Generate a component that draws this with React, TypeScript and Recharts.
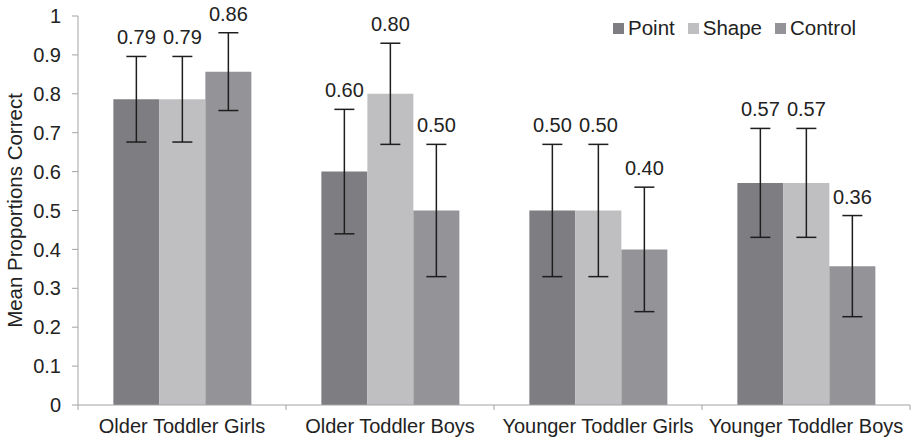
import React from "react"
import { BarChart, Bar, XAxis, YAxis, ErrorBar, LabelList } from "recharts"

const groups = ["Older Toddler Girls", "Older Toddler Boys", "Younger Toddler Girls", "Younger Toddler Boys"]
const pointValues = [0.786, 0.6, 0.5, 0.571]
const shapeValues = [0.786, 0.8, 0.5, 0.571]
const controlValues = [0.857, 0.5, 0.4, 0.357]
const pointErrors = [0.11, 0.16, 0.17, 0.14]
const shapeErrors = [0.11, 0.13, 0.17, 0.14]
const controlErrors = [0.1, 0.17, 0.16, 0.13]
const yTicks = [0, 0.1, 0.2, 0.3, 0.4, 0.5, 0.6, 0.7, 0.8, 0.9, 1]

const series = [
  { key: "point", name: "Point", color: "#7e7e82", errors: pointErrors },
  { key: "shape", name: "Shape", color: "#bfbfc1", errors: shapeErrors },
  { key: "control", name: "Control", color: "#949498", errors: controlErrors },
]

const data = groups.map((g, i) => ({
  group: g,
  point: pointValues[i],
  shape: shapeValues[i],
  control: controlValues[i],
  pointErr: pointErrors[i],
  shapeErr: shapeErrors[i],
  controlErr: controlErrors[i],
}))

const font = "'Liberation Sans', Arial, sans-serif"
const axisColor = "#a3a3a3"
const textColor = "#222"

function makeLabel(errors: number[]) {
  return (props: any) => {
    const { x, y, width, height, value, index } = props
    const perUnit = height / value
    const top = y - errors[index] * perUnit
    return (
      <text
        x={x + width / 2}
        y={top - 12}
        textAnchor="middle"
        fontSize={20}
        fontFamily={font}
        fill={textColor}
      >
        {Number(value).toFixed(2)}
      </text>
    )
  }
}

// category tick with Excel-style boundary marks between groups
function GroupTick(props: any) {
  const { x, y, payload, index, visibleTicksCount } = props
  const half = payload.offset || 0
  const axisY = y - 10
  return (
    <g>
      <line x1={x - half} x2={x - half} y1={axisY} y2={axisY + 5} stroke={axisColor} />
      {index === visibleTicksCount - 1 && (
        <line x1={x + half} x2={x + half} y1={axisY} y2={axisY + 5} stroke={axisColor} />
      )}
      <text x={x} y={y + 18} textAnchor="middle" fontSize={20} fontFamily={font} fill={textColor}>
        {payload.value}
      </text>
    </g>
  )
}

function YLabel(props: any) {
  const vb = props.viewBox
  const cx = vb.x + 14
  const cy = vb.y + vb.height / 2
  return (
    <text
      x={cx}
      y={cy}
      transform={`rotate(-90, ${cx}, ${cy})`}
      textAnchor="middle"
      dominantBaseline="central"
      fontSize={20.5}
      fontFamily={font}
      fill={textColor}
    >
      Mean Proportions Correct
    </text>
  )
}

export default function App() {
  return (
    <div style={{ position: "absolute", left: 0, top: 0, width: 914, height: 442, background: "#fff" }}>
      <BarChart
        width={914}
        height={442}
        data={data}
        margin={{ top: 16, right: 4, bottom: 0, left: 0 }}
        barCategoryGap="17%"
        barGap={0}
      >
        <XAxis
          dataKey="group"
          height={37}
          stroke={axisColor}
          tickLine={false}
          tickSize={6}
          tickMargin={4}
          interval={0}
          tick={<GroupTick />}
        />
        <YAxis
          width={78}
          domain={[0, 1]}
          ticks={yTicks}
          interval={0}
          stroke={axisColor}
          tickSize={6}
          tickMargin={11}
          tick={{ fontSize: 20, fontFamily: font, fill: textColor }}
          tickFormatter={(v) => String(Math.round(v * 10) / 10)}
          label={<YLabel />}
        />
        {series.map((s) => (
          <Bar key={s.key} dataKey={s.key} name={s.name} fill={s.color} isAnimationActive={false}>
            <ErrorBar dataKey={s.key + "Err"} width={10} stroke="#1e1e1e" strokeWidth={1.5} />
            <LabelList dataKey={s.key} content={makeLabel(s.errors)} />
          </Bar>
        ))}
      </BarChart>
      <div
        style={{
          position: "absolute",
          left: 613,
          top: 16,
          display: "flex",
          gap: 13,
          fontFamily: font,
          fontSize: 20.5,
          lineHeight: "24px",
          color: textColor,
        }}
      >
        {series.map((s) => (
          <div key={s.key} style={{ display: "flex", alignItems: "center" }}>
            <span style={{ width: 11, height: 11, background: s.color, marginRight: 4, display: "inline-block" }} />
            <span>{s.name}</span>
          </div>
        ))}
      </div>
    </div>
  )
}
